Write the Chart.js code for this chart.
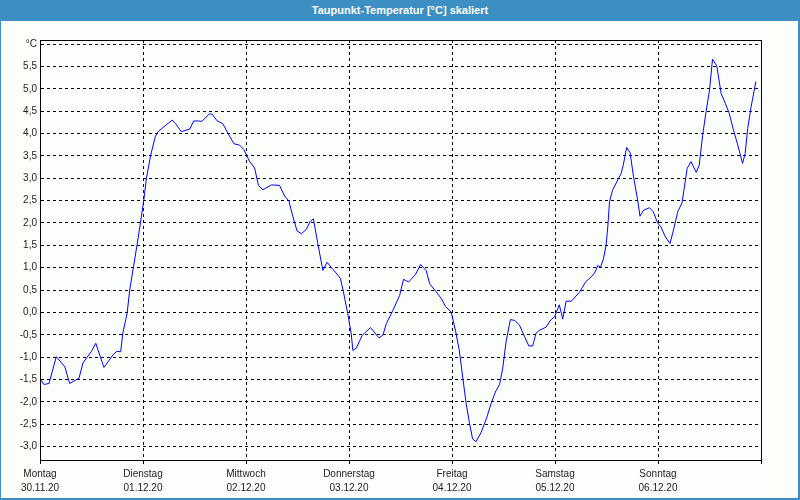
<!DOCTYPE html>
<html><head><meta charset="utf-8">
<script src="https://cdn.jsdelivr.net/npm/chart.js@4/dist/chart.umd.min.js"></script>
<style>
html,body{margin:0;padding:0;background:#fff;}
#wrap{position:relative;width:800px;height:500px;background:#fcfefc;box-sizing:border-box;border-left:1px solid #3d8fc3;border-right:2px solid #3d8fc3;border-bottom:2px solid #3d8fc3;}
#title{position:absolute;left:-1px;top:0;width:800px;height:21px;background:#3d8fc3;color:#fff;font:bold 11px "Liberation Sans",Arial,sans-serif;text-align:center;line-height:20px;}
#c{position:absolute;left:-1px;top:0;}
</style></head><body>
<div id="wrap"><div id="title">Taupunkt-Temperatur [°C] skaliert</div><canvas id="c" width="800" height="500"></canvas></div>
<script>
const dayNames = ['Montag','Dienstag','Mittwoch','Donnerstag','Freitag','Samstag','Sonntag'];
const dayDates = ['30.11.20','01.12.20','02.12.20','03.12.20','04.12.20','05.12.20','06.12.20'];
const yTickValues = [-3,-2.5,-2,-1.5,-1,-0.5,0,0.5,1,1.5,2,2.5,3,3.5,4,4.5,5,5.5,6];
const xTickValues = [0,24,48,72,96,120,144,168];
const hours = [0.0,0.9,2.1,3.8,5.8,6.9,9.1,10.0,12.0,13.0,14.9,17.0,17.9,18.8,19.3,20.3,20.9,21.8,22.6,23.4,24.2,24.8,25.8,26.9,27.6,30.8,31.6,32.9,34.9,35.8,37.0,37.7,39.5,40.1,41.3,42.6,43.8,45.2,46.5,47.5,48.8,50.0,50.9,51.9,53.9,55.8,57.0,58.0,58.9,59.9,60.9,62.0,63.0,63.7,64.7,65.9,66.9,68.0,69.0,70.0,70.7,71.7,72.5,72.9,73.7,75.1,77.0,79.0,79.9,80.7,82.2,83.8,84.7,85.9,87.5,88.7,90.0,90.8,92.3,93.5,94.5,95.8,96.8,97.7,98.5,99.3,100.1,100.8,101.6,102.8,104.0,105.1,106.1,107.1,107.8,108.6,109.6,110.6,111.7,112.9,113.9,114.8,115.6,116.4,117.9,119.1,119.9,121.0,121.8,122.6,123.8,125.7,127.2,128.4,129.2,130.0,130.6,131.3,131.9,132.3,132.7,133.4,134.4,135.4,135.9,136.7,137.5,138.3,139.3,139.8,140.6,142.0,142.9,143.9,144.7,145.7,146.8,147.6,148.6,149.6,150.4,150.8,151.7,152.9,153.6,154.4,155.2,156.0,156.7,157.7,158.7,159.7,160.6,161.6,162.6,163.7,164.3,164.9,165.7,166.8];
const dewpoint = [-1.48,-1.61,-1.59,-0.99,-1.22,-1.59,-1.47,-1.13,-0.87,-0.69,-1.23,-0.95,-0.87,-0.88,-0.46,-0.02,0.50,1.03,1.50,2.00,2.52,3.00,3.52,3.94,4.05,4.30,4.22,4.04,4.10,4.28,4.28,4.27,4.44,4.43,4.28,4.22,4.00,3.77,3.74,3.64,3.38,3.23,2.84,2.74,2.85,2.84,2.60,2.49,2.15,1.82,1.76,1.85,2.04,2.09,1.56,0.94,1.12,0.99,0.88,0.76,0.46,-0.02,-0.46,-0.85,-0.80,-0.51,-0.34,-0.57,-0.51,-0.25,0.04,0.38,0.74,0.68,0.85,1.07,0.93,0.64,0.46,0.31,0.13,0.01,-0.40,-0.85,-1.45,-2.04,-2.49,-2.83,-2.89,-2.68,-2.38,-2.04,-1.78,-1.61,-1.26,-0.66,-0.16,-0.18,-0.28,-0.54,-0.75,-0.75,-0.46,-0.40,-0.33,-0.16,-0.10,0.17,-0.15,0.25,0.25,0.45,0.69,0.79,0.88,1.05,1.01,1.20,1.50,1.91,2.47,2.73,2.92,3.10,3.29,3.69,3.57,3.03,2.49,2.15,2.28,2.34,2.25,2.00,1.91,1.69,1.54,1.84,2.25,2.45,2.96,3.22,3.37,3.13,3.29,3.96,4.49,4.97,5.66,5.51,4.90,4.67,4.45,4.07,3.74,3.33,3.55,4.11,4.60,5.16];

const points = hours.map((h,i)=>({x:h,y:dewpoint[i]}));
const FONT = {family:'"Liberation Sans", Arial, sans-serif', size:10};

const frame = {
  id:'frame',
  afterDraw(chart){
    const a = chart.chartArea, ctx = chart.ctx;
    ctx.save();
    ctx.strokeStyle = '#000'; ctx.lineWidth = 1;
    ctx.strokeRect(Math.round(a.left)+0.5, Math.round(a.top)+0.5, Math.round(a.right-a.left), Math.round(a.bottom-a.top));
    ctx.restore();
  }
};

new Chart(document.getElementById('c'), {
  type:'line',
  data:{datasets:[{data:points,borderColor:'#0000ff',borderWidth:1,pointRadius:0,tension:0,fill:false}]},
  options:{
    responsive:false, animation:false,
    layout:{padding:{top:40,right:39,left:0,bottom:0}},
    plugins:{legend:{display:false},title:{display:false},tooltip:{enabled:false}},
    scales:{
      x:{type:'linear',min:0,max:168,
        afterBuildTicks(s){s.ticks = xTickValues.map(v=>({value:v}));},
        afterFit(s){s.height = 40;},
        grid:{color:'#000',lineWidth:1,tickLength:4,tickColor:'#000',drawOnChartArea:true},
        border:{display:true,color:'#000',dash:[3,3]},
        ticks:{autoSkip:false,maxRotation:0,padding:3,color:'#222',font:{...FONT,lineHeight:1.4},
          callback(v){const i=Math.round(v/24); return i<7?[dayNames[i],dayDates[i]]:'';}}
      },
      y:{type:'linear',min:-3.3,max:6.09,
        afterBuildTicks(s){s.ticks = yTickValues.map(v=>({value:v}));},
        afterFit(s){s.width = 40;},
        grid:{color:'#000',lineWidth:1,drawTicks:false},
        border:{display:true,color:'#000',dash:[3,3]},
        ticks:{padding:3,color:'#222',font:FONT,
          callback(v){return v===6?'°C':v.toFixed(1).replace('.',',');}}
      }
    }
  },
  plugins:[frame]
});
</script>
</body></html>
